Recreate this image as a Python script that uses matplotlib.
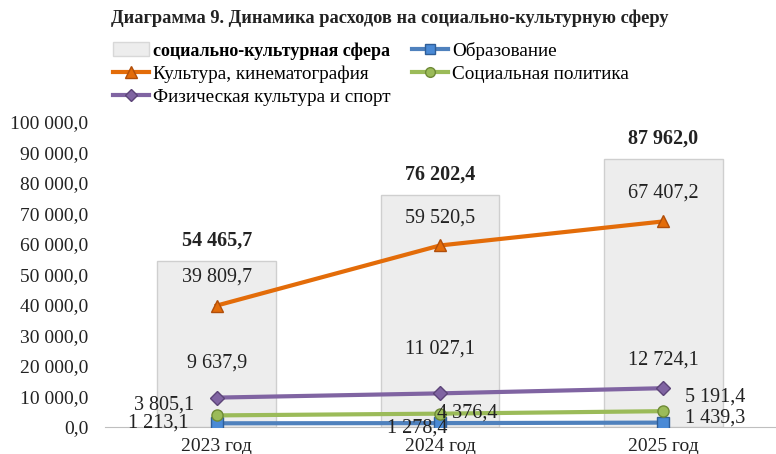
import numpy as np
import matplotlib.pyplot as plt
from matplotlib.patches import Patch
from matplotlib.lines import Line2D

plt.rcParams['font.family'] = ['Liberation Serif', 'DejaVu Serif']

years = ['2023 год', '2024 год', '2025 год']
total = [54465.7, 76202.4, 87962.0]
culture = [39809.7, 59520.5, 67407.2]
sport = [9637.9, 11027.1, 12724.1]
social = [3805.1, 4376.4, 5191.4]
education = [1213.1, 1278.4, 1439.3]

def fmt(v):
  s = '{:,.1f}'.format(v)
  return s.replace(',', ' ').replace('.', ',')

fig = plt.figure(figsize=(7.76, 4.54), dpi=100)
ax = fig.add_axes([105/776, 27/454, 670/776, 305/454])

x = np.arange(len(years))
ax.bar(x, total, width=0.53, color='#ededed', edgecolor='#cfcfcf', linewidth=1, zorder=1)

# series: values, line colour, marker, marker edge, marker face, label offsets (px)
series = [
  (education, '#4F81BD', 's', '#2F5E98', '#4A8AD6', [(-58, 0), (-23, -5), (52, 5)]),
  (social, '#9BBB59', 'o', '#6E8A36', '#9BBB59', [(-53, 10), (27, 1), (52, 14)]),
  (sport, '#8064A2', 'D', '#5C4478', '#8064A2', [(0, 35), (0, 44), (0, 28)]),
  (culture, '#E36C09', '^', '#B04E0A', '#E36C09', [(0, 29), (0, 27), (0, 28)]),
]
for vals, col, mk, edge, face, offs in series:
  ax.plot(x, vals, color=col, linewidth=3, marker=mk, markersize=8 if mk != 'D' else 7,
          markerfacecolor=face, markeredgecolor=edge, markeredgewidth=1, zorder=3)
  for i in range(len(vals)):
    ax.annotate(fmt(vals[i]), (x[i], vals[i]), xytext=offs[i], textcoords='offset pixels',
                ha='center', va='center', fontsize=14.5, color='#222222', zorder=4)

for i in range(len(total)):
  ax.annotate(fmt(total[i]), (x[i], total[i]), xytext=(0, 20), textcoords='offset pixels',
              ha='center', va='center', fontsize=14.5, fontweight='bold', color='#222222')

ax.set_xlim(-0.5, 2.5)
ax.set_ylim(0, 100000)
ax.set_yticks(np.arange(0, 100001, 10000))
ax.set_yticklabels([fmt(v) for v in np.arange(0, 100001, 10000)])
ax.set_xticks(x)
ax.set_xticklabels(years)
ax.tick_params(axis='both', length=0, labelsize=14, colors='#222222')
ax.tick_params(axis='y', pad=12)
ax.tick_params(axis='x', pad=8)
for s in ['top', 'right', 'left']:
  ax.spines[s].set_visible(False)
ax.spines['bottom'].set_color('#bfbfbf')
ax.set_facecolor('none')

fig.text(0.5 + 2/776, 1 - 18/454, 'Диаграмма 9. Динамика расходов на социально-культурную сферу',
         ha='center', va='center', fontsize=13.2, fontweight='bold', color='#222222')

handles = [
  Patch(facecolor='#ededed', edgecolor='#d8d8d8'),
  Line2D([], [], color='#E36C09', lw=3, marker='^', ms=8, mfc='#E36C09', mec='#B04E0A'),
  Line2D([], [], color='#8064A2', lw=3, marker='D', ms=6, mfc='#8064A2', mec='#5C4478'),
  Line2D([], [], color='#4F81BD', lw=3, marker='s', ms=7, mfc='#4A8AD6', mec='#2F5E98'),
  Line2D([], [], color='#9BBB59', lw=3, marker='o', ms=7, mfc='#9BBB59', mec='#6E8A36'),
]
labels = ['социально-культурная сфера', 'Культура, кинематография', 'Физическая культура и спорт',
          'Образование', 'Социальная политика']
leg = fig.legend(handles, labels, loc='upper left', bbox_to_anchor=(103/776, 1 - 32/454), ncol=2,
                 frameon=False, fontsize=13.8, handlelength=1.9, handletextpad=0.2,
                 labelspacing=0.3, columnspacing=1.1, borderpad=0)
leg.get_texts()[0].set_fontweight('bold')
leg.get_texts()[0].set_fontsize(13.0)

fig.savefig('out.png', dpi=100)
